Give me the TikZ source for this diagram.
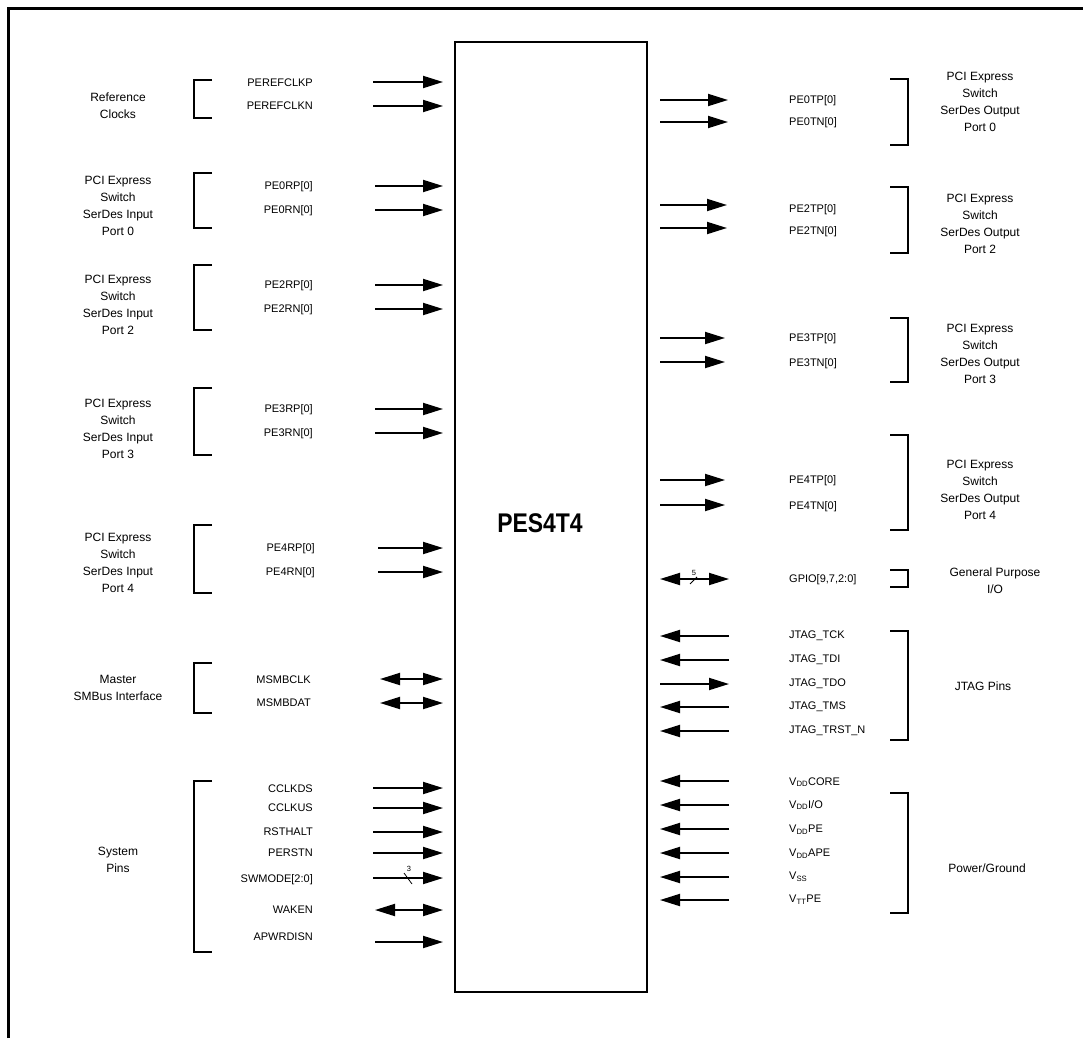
\documentclass[tikz,border=0pt]{standalone}
\usepackage{fontspec}
\setmainfont{Liberation Sans}
\newfontfamily\chipfont[FakeStretch=0.85]{Liberation Sans}
\usetikzlibrary{arrows.meta}
\newcommand{\lbrk}[2]{\draw[brk] (212,#1) -- (194,#1) -- (194,#2) -- (212,#2);}
\newcommand{\rbrk}[2]{\draw[brk] (890,#1) -- (908,#1) -- (908,#2) -- (890,#2);}

\tikzset{
    sig/.style={line width=1.9pt, -{Triangle[length=20pt,width=12pt]}},
    tochip/.style={sig, shorten >=11pt},
    fromchip/.style={sig, shorten <=12pt},
    bichip/.style={line width=1.9pt, {Triangle[length=20pt,width=12pt]}-{Triangle[length=20pt,width=12pt]}, shorten >=11pt},
    pinl/.style={anchor=east, inner sep=0pt},
    pinr/.style={anchor=west, inner sep=0pt},
    grp/.style={align=center, font=\fontsize{12}{17}\selectfont},
    brk/.style={line width=1.9pt},
    buswidth/.style={font=\fontsize{7.5}{8}\selectfont, inner sep=0pt}
}

\begin{document}
\begin{tikzpicture}[x=1pt, y=-1pt, font=\fontsize{11}{13}\selectfont]
    \useasboundingbox (0,0) rectangle (1083,1038);
    \draw[line width=2.5pt] (8.5,1038) -- (8.5,8.5) -- (1083,8.5);

    \node[draw, line width=2pt, minimum width=192pt, minimum height=950pt, inner sep=0pt] (chip) at (551,517) {};
    \node[font=\chipfont\bfseries\fontsize{27}{30}\selectfont] (chipname) at (540,523) {PES4T4};

    \node[grp] (refclk) at (118,106) {Reference\\Clocks};
    \node[grp] (in0) at (118,206) {PCI Express\\Switch\\SerDes Input\\Port 0};
    \node[grp] (in2) at (118,305) {PCI Express\\Switch\\SerDes Input\\Port 2};
    \node[grp] (in3) at (118,429) {PCI Express\\Switch\\SerDes Input\\Port 3};
    \node[grp] (in4) at (118,563) {PCI Express\\Switch\\SerDes Input\\Port 4};
    \node[grp] (smbus) at (118,688) {Master\\SMBus Interface};
    \node[grp] (syspins) at (118,860) {System\\Pins};

    \lbrk{80}{118}
    \lbrk{173}{228}
    \lbrk{265}{330}
    \lbrk{388}{455}
    \lbrk{525}{593}
    \lbrk{663}{713}
    \lbrk{781}{952}

    \node[pinl] (clkp) at (313,83) {PEREFCLKP};
    \node[pinl] (clkn) at (313,106) {PEREFCLKN};
    \node[pinl] (rp0) at (313,187) {PE0RP[0]};
    \node[pinl] (rn0) at (313,211) {PE0RN[0]};
    \node[pinl] (rp2) at (313,286) {PE2RP[0]};
    \node[pinl] (rn2) at (313,310) {PE2RN[0]};
    \node[pinl] (rp3) at (313,410) {PE3RP[0]};
    \node[pinl] (rn3) at (313,434) {PE3RN[0]};
    \node[pinl] (rp4) at (315,549) {PE4RP[0]};
    \node[pinl] (rn4) at (315,573) {PE4RN[0]};
    \node[pinl] (msclk) at (311,680) {MSMBCLK};
    \node[pinl] (msdat) at (311,703) {MSMBDAT};
    \node[pinl] (cclkds) at (313,789) {CCLKDS};
    \node[pinl] (cclkus) at (313,808) {CCLKUS};
    \node[pinl] (rsthalt) at (313,832) {RSTHALT};
    \node[pinl] (perstn) at (313,853) {PERSTN};
    \node[pinl] (swmode) at (313,880) {SWMODE[2:0]};
    \node[pinl] (waken) at (313,910) {WAKEN};
    \node[pinl] (apwrdisn) at (313,937) {APWRDISN};

    \coordinate (clkp-t) at (373,82);
    \coordinate (clkn-t) at (373,106);
    \coordinate (rp0-t) at (375,186);
    \coordinate (rn0-t) at (375,210);
    \coordinate (rp2-t) at (375,285);
    \coordinate (rn2-t) at (375,309);
    \coordinate (rp3-t) at (375,409);
    \coordinate (rn3-t) at (375,433);
    \coordinate (rp4-t) at (378,548);
    \coordinate (rn4-t) at (378,572);
    \coordinate (msclk-t) at (380,679);
    \coordinate (msdat-t) at (380,703);
    \coordinate (cclkds-t) at (373,788);
    \coordinate (cclkus-t) at (373,808);
    \coordinate (rsthalt-t) at (373,832);
    \coordinate (perstn-t) at (373,853);
    \coordinate (swmode-t) at (373,878);
    \coordinate (waken-t) at (375,910);
    \coordinate (apwrdisn-t) at (375,942);

    \draw[tochip] (clkp-t) -- (clkp-t -| chip.west);
    \draw[tochip] (clkn-t) -- (clkn-t -| chip.west);
    \draw[tochip] (rp0-t) -- (rp0-t -| chip.west);
    \draw[tochip] (rn0-t) -- (rn0-t -| chip.west);
    \draw[tochip] (rp2-t) -- (rp2-t -| chip.west);
    \draw[tochip] (rn2-t) -- (rn2-t -| chip.west);
    \draw[tochip] (rp3-t) -- (rp3-t -| chip.west);
    \draw[tochip] (rn3-t) -- (rn3-t -| chip.west);
    \draw[tochip] (rp4-t) -- (rp4-t -| chip.west);
    \draw[tochip] (rn4-t) -- (rn4-t -| chip.west);
    \draw[bichip] (msclk-t) -- (msclk-t -| chip.west);
    \draw[bichip] (msdat-t) -- (msdat-t -| chip.west);
    \draw[tochip] (cclkds-t) -- (cclkds-t -| chip.west);
    \draw[tochip] (cclkus-t) -- (cclkus-t -| chip.west);
    \draw[tochip] (rsthalt-t) -- (rsthalt-t -| chip.west);
    \draw[tochip] (perstn-t) -- (perstn-t -| chip.west);
    \draw[tochip] (swmode-t) -- (swmode-t -| chip.west);
    \draw[bichip] (waken-t) -- (waken-t -| chip.west);
    \draw[tochip] (apwrdisn-t) -- (apwrdisn-t -| chip.west);

    \draw[line width=0.8pt] (404,873) -- (412,884);
    \node[buswidth] (sw3) at (409,869) {3};

    \node[grp] (out0) at (980,102) {PCI Express\\Switch\\SerDes Output\\Port 0};
    \node[grp] (out2) at (980,224) {PCI Express\\Switch\\SerDes Output\\Port 2};
    \node[grp] (out3) at (980,354) {PCI Express\\Switch\\SerDes Output\\Port 3};
    \node[grp] (out4) at (980,490) {PCI Express\\Switch\\SerDes Output\\Port 4};
    \node[grp] (gpiogrp) at (995,581) {General Purpose\\I/O};
    \node[grp] (jtag) at (983,686) {JTAG Pins};
    \node[grp] (pwr) at (987,868) {Power/Ground};

    \rbrk{79}{145}
    \rbrk{187}{253}
    \rbrk{318}{382}
    \rbrk{435}{530}
    \rbrk{570}{587}
    \rbrk{631}{740}
    \rbrk{793}{913}

    \node[pinr] (tp0) at (789,101) {PE0TP[0]};
    \node[pinr] (tn0) at (789,123) {PE0TN[0]};
    \node[pinr] (tp2) at (789,210) {PE2TP[0]};
    \node[pinr] (tn2) at (789,232) {PE2TN[0]};
    \node[pinr] (tp3) at (789,339) {PE3TP[0]};
    \node[pinr] (tn3) at (789,364) {PE3TN[0]};
    \node[pinr] (tp4) at (789,481) {PE4TP[0]};
    \node[pinr] (tn4) at (789,507) {PE4TN[0]};
    \node[pinr] (gpio) at (789,580) {GPIO[9,7,2:0]};
    \node[pinr] (tck) at (789,636) {JTAG\_TCK};
    \node[pinr] (tdi) at (789,660) {JTAG\_TDI};
    \node[pinr] (tdo) at (789,684) {JTAG\_TDO};
    \node[pinr] (tms) at (789,707) {JTAG\_TMS};
    \node[pinr] (trst) at (789,731) {JTAG\_TRST\_N};
    \node[pinr] (vcore) at (789,782) {V\textsubscript{DD}CORE};
    \node[pinr] (vio) at (789,805) {V\textsubscript{DD}I/O};
    \node[pinr] (vpe) at (789,830) {V\textsubscript{DD}PE};
    \node[pinr] (vape) at (789,854) {V\textsubscript{DD}APE};
    \node[pinr] (vss) at (789,877) {V\textsubscript{SS}};
    \node[pinr] (vtt) at (789,900) {V\textsubscript{TT}PE};

    \coordinate (tp0-t) at (728,100);
    \coordinate (tn0-t) at (728,122);
    \coordinate (tp2-t) at (727,205);
    \coordinate (tn2-t) at (727,228);
    \coordinate (tp3-t) at (725,338);
    \coordinate (tn3-t) at (725,362);
    \coordinate (tp4-t) at (725,480);
    \coordinate (tn4-t) at (725,505);
    \coordinate (gpio-t) at (729,579);
    \coordinate (tck-t) at (729,636);
    \coordinate (tdi-t) at (729,660);
    \coordinate (tdo-t) at (729,684);
    \coordinate (tms-t) at (729,707);
    \coordinate (trst-t) at (729,731);
    \coordinate (vcore-t) at (729,781);
    \coordinate (vio-t) at (729,805);
    \coordinate (vpe-t) at (729,829);
    \coordinate (vape-t) at (729,853);
    \coordinate (vss-t) at (729,877);
    \coordinate (vtt-t) at (729,900);

    \draw[fromchip] (tp0-t -| chip.east) -- (tp0-t);
    \draw[fromchip] (tn0-t -| chip.east) -- (tn0-t);
    \draw[fromchip] (tp2-t -| chip.east) -- (tp2-t);
    \draw[fromchip] (tn2-t -| chip.east) -- (tn2-t);
    \draw[fromchip] (tp3-t -| chip.east) -- (tp3-t);
    \draw[fromchip] (tn3-t -| chip.east) -- (tn3-t);
    \draw[fromchip] (tp4-t -| chip.east) -- (tp4-t);
    \draw[fromchip] (tn4-t -| chip.east) -- (tn4-t);
    \draw[bichip, shorten >=12pt] (gpio-t) -- (gpio-t -| chip.east);
    \draw[tochip, shorten >=12pt] (tck-t) -- (tck-t -| chip.east);
    \draw[tochip, shorten >=12pt] (tdi-t) -- (tdi-t -| chip.east);
    \draw[fromchip] (tdo-t -| chip.east) -- (tdo-t);
    \draw[tochip, shorten >=12pt] (tms-t) -- (tms-t -| chip.east);
    \draw[tochip, shorten >=12pt] (trst-t) -- (trst-t -| chip.east);
    \draw[tochip, shorten >=12pt] (vcore-t) -- (vcore-t -| chip.east);
    \draw[tochip, shorten >=12pt] (vio-t) -- (vio-t -| chip.east);
    \draw[tochip, shorten >=12pt] (vpe-t) -- (vpe-t -| chip.east);
    \draw[tochip, shorten >=12pt] (vape-t) -- (vape-t -| chip.east);
    \draw[tochip, shorten >=12pt] (vss-t) -- (vss-t -| chip.east);
    \draw[tochip, shorten >=12pt] (vtt-t) -- (vtt-t -| chip.east);

    \draw[line width=0.8pt] (690,584) -- (697,577);
    \node[buswidth] (gpio5) at (694,573) {5};
\end{tikzpicture}
\end{document}
